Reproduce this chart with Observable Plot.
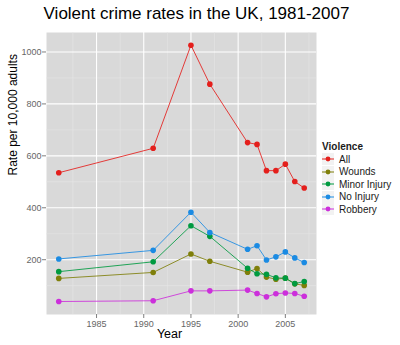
<!DOCTYPE html>
<html><head><meta charset="utf-8">
<script src="https://cdn.jsdelivr.net/npm/d3@7"></script>
<script src="https://cdn.jsdelivr.net/npm/@observablehq/plot@0.6"></script>
<style>
body{margin:0;background:#fff;font-family:"Liberation Sans",Arial,sans-serif}
#wrap{position:relative;width:400px;height:345px;overflow:hidden}
#legend{position:absolute;left:322px;top:140px;font-size:10px;color:#1a1a1a}
#legend .lt{font-weight:bold;height:13px;line-height:13px}
#legend .it{display:flex;align-items:center;height:12.5px}
#legend svg{display:block;margin-right:5px}
</style></head><body>
<div id="wrap"><div id="chart"></div><div id="legend"></div></div>
<script>
const titleText = "Violent crime rates in the UK, 1981-2007";
const xLabel = "Year";
const yLabel = "Rate per 10,000 adults";
const legendTitle = "Violence";
const years = [1981,1991,1995,1997,2001,2002,2003,2004,2005,2006,2007];
const seriesNames = ["All","Wounds","Minor Injury","No Injury","Robbery"];
const allVals = [535,629,1026,876,651,644,543,543,568,501,476];
const woundsVals = [128,151,222,194,152,166,133,125,129,107,101];
const minorVals = [154,192,331,290,167,146,144,130,129,108,116];
const noInjuryVals = [203,236,383,305,240,254,199,211,230,207,189];
const robberyVals = [39,42,80,80,83,70,57,69,72,70,59];
const seriesColors = ["#E41F1C","#7F7F0A","#009A40","#1B8BE3","#CC2FDB"];
const xTicks = [1985,1990,1995,2000,2005];
const xMinor = [1982.5,1987.5,1992.5,1997.5,2002.5,2007.5];
const yTicks = [200,400,600,800,1000];
const yMinor = [100,300,500,700,900];

const valueLists = [allVals, woundsVals, minorVals, noInjuryVals, robberyVals];
const rows = [];
seriesNames.forEach((s, i) => years.forEach((yr, j) => rows.push({series: s, year: yr, value: valueLists[i][j]})));

const font = "Liberation Sans, Arial, sans-serif";
const chart = Plot.plot({
  width: 400, height: 345,
  marginLeft: 46, marginRight: 84, marginTop: 32, marginBottom: 31,
  style: {fontFamily: font, fontSize: "9px", background: "transparent", overflow: "visible"},
  x: {domain: [1979.7, 2008.3]},
  y: {domain: [-11, 1075]},
  color: {domain: seriesNames, range: seriesColors},
  marks: [
    Plot.frame({fill: "#D9D9D9", stroke: null}),
    Plot.ruleX(xMinor, {stroke: "#E6E6E6", strokeWidth: 0.6}),
    Plot.ruleY(yMinor, {stroke: "#E6E6E6", strokeWidth: 0.6}),
    Plot.ruleX(xTicks, {stroke: "#FFFFFF", strokeWidth: 1.1}),
    Plot.ruleY(yTicks, {stroke: "#FFFFFF", strokeWidth: 1.1}),
    Plot.axisX({ticks: xTicks, tickFormat: d => String(d), tickSize: 4, tickPadding: 2, stroke: "#7f7f7f", color: "#666", fontSize: 9, label: null}),
    Plot.axisY({ticks: yTicks, tickFormat: d => String(d), tickSize: 4, tickPadding: 1, stroke: "#7f7f7f", color: "#666", fontSize: 9, label: null}),
    Plot.line(rows, {x: "year", y: "value", z: "series", stroke: "series", strokeWidth: 1, strokeOpacity: 0.85}),
    Plot.dot(rows, {x: "year", y: "value", fill: "series", r: 2.8}),
    Plot.text([titleText], {frameAnchor: "top", dx: 15, dy: -19, lineAnchor: "middle", fontSize: 17, fill: "black"}),
    Plot.text([xLabel], {frameAnchor: "bottom", dx: -12, dy: 19, lineAnchor: "middle", fontSize: 12.5, fill: "black"}),
    Plot.text([yLabel], {frameAnchor: "left", rotate: -90, dx: -33, dy: 2, lineAnchor: "middle", fontSize: 12, fill: "black"})
  ]
});
document.getElementById("chart").appendChild(chart);

const lg = document.getElementById("legend");
const t = document.createElement("div"); t.className = "lt"; t.textContent = legendTitle; lg.appendChild(t);
seriesNames.forEach((s, i) => {
  const it = document.createElement("div"); it.className = "it";
  it.innerHTML = `<svg width="12" height="12"><rect width="12" height="12" fill="#F2F2F2"/><line x1="0" x2="12" y1="6" y2="6" stroke="${seriesColors[i]}" stroke-width="1"/><circle cx="6" cy="6" r="2.4" fill="${seriesColors[i]}"/></svg><span>${s}</span>`;
  lg.appendChild(it);
});
</script>
</body></html>
